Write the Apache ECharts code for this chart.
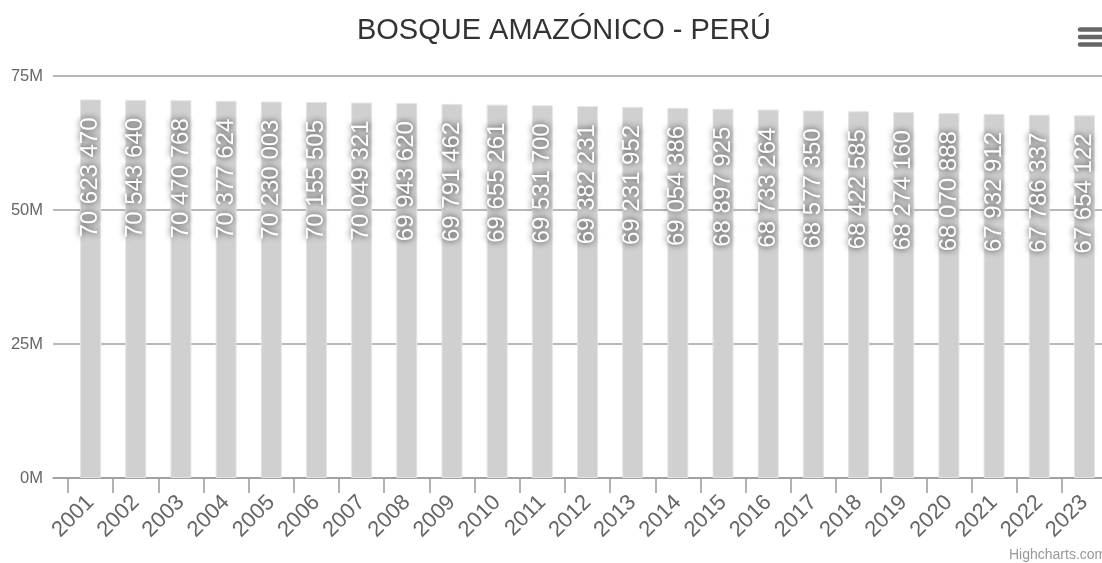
<!DOCTYPE html>
<html>
<head>
<meta charset="utf-8">
<title>Bosque Amazónico - Perú</title>
<script src="https://cdn.jsdelivr.net/npm/echarts@6/dist/echarts.min.js"></script>
<style>
	html,body{
		margin:0;
		padding:0;
		background:#fff;
	}
	#chart{
		width:1102px;
		height:563px;
	}
</style>
</head>
<body>
<div id="chart"></div>
<script>
	// data
	var years=["2001","2002","2003","2004","2005","2006","2007","2008","2009","2010","2011","2012",
		"2013","2014","2015","2016","2017","2018","2019","2020","2021","2022","2023"];
	var forestArea=[70623470,70543640,70470768,70377624,70230003,70155505,70049321,69943620,69791462,
		69655261,69531700,69382231,69231952,69054386,68897925,68733264,68577350,68422585,68274160,
		68070888,67932912,67786337,67654122];
	var yTicks=[0,25000000,50000000,75000000];

	var font="'Liberation Sans', Arial, sans-serif";

	function spaced(v){
		return String(v).replace(/\B(?=(\d{3})+(?!\d))/g," ");
	}

	var barData=forestArea.map(function(v,i){return [i,v];});
	var tickPos=[];
	for(var i=0;i<=years.length;i++){tickPos.push(i-0.5);}
	var labelPos=years.map(function(y,i){return i;});

	var chart=echarts.init(document.getElementById("chart"),null,{renderer:"canvas"});
	var option={
		animation:false,
		title:{
			text:"BOSQUE AMAZÓNICO - PERÚ",
			left:559,
			top:11,
			textAlign:"center",
			textStyle:{
				color:"#333",
				fontWeight:"normal",
				fontSize:29,
				fontFamily:font
			}
		},
		grid:{
			left:53,
			right:-20,
			top:76,
			bottom:85,
			containLabel:false,
			outerBoundsMode:"none"
		},
		xAxis:{
			type:"value",
			min:-0.5-0.332,
			max:years.length-0.5+0.332,
			axisLine:{show:true,lineStyle:{color:"#999",width:1.5}},
			axisTick:{
				show:true,
				customValues:tickPos,
				length:15,
				lineStyle:{color:"#999",width:1.5}
			},
			axisLabel:{
				customValues:labelPos,
				rotate:45,
				margin:21,
				color:"#666",
				fontSize:22,
				fontFamily:font,
				formatter:function(v){return years[Math.round(v)]||"";}
			},
			splitLine:{show:false}
		},
		yAxis:{
			type:"value",
			min:yTicks[0],
			max:yTicks[yTicks.length-1],
			interval:yTicks[1]-yTicks[0],
			axisLine:{show:false},
			axisTick:{show:false},
			axisLabel:{
				color:"#666",
				fontSize:16.5,
				fontFamily:font,
				margin:10,
				formatter:function(v){return (v/1000000)+"M";}
			},
			splitLine:{lineStyle:{color:"#a0a0a0",width:1.5}}
		},
		series:[
			{
				name:"Bosque",
				type:"bar",
				barWidth:21,
				data:barData,
				itemStyle:{color:"#d0d0d0",borderColor:"#e4e4e4",borderWidth:1},
				label:{
					show:true,
					position:"insideTop",
					rotate:90,
					align:"right",
					verticalAlign:"middle",
					distance:18,
					color:"#fff",
					fontSize:24,
					fontFamily:font,
					textShadowColor:"rgba(0,0,0,0.85)",
					textShadowBlur:6,
					formatter:function(p){return spaced(p.value[1]);}
				}
			}
		],
		graphic:[
			{type:"line",shape:{x1:1080,y1:29.5,x2:1106,y2:29.5},style:{stroke:"#666",lineWidth:4.5,lineCap:"round"}},
			{type:"line",shape:{x1:1080,y1:37,x2:1106,y2:37},style:{stroke:"#666",lineWidth:4.5,lineCap:"round"}},
			{type:"line",shape:{x1:1080,y1:44.5,x2:1106,y2:44.5},style:{stroke:"#666",lineWidth:4.5,lineCap:"round"}},
			{type:"text",left:1009,top:548,style:{text:"Highcharts.com",fill:"#999",fontSize:14,fontFamily:font}}
		]
	};
	chart.setOption(option);
	window.addEventListener("resize",chart.resize);
</script>
</body>
</html>
